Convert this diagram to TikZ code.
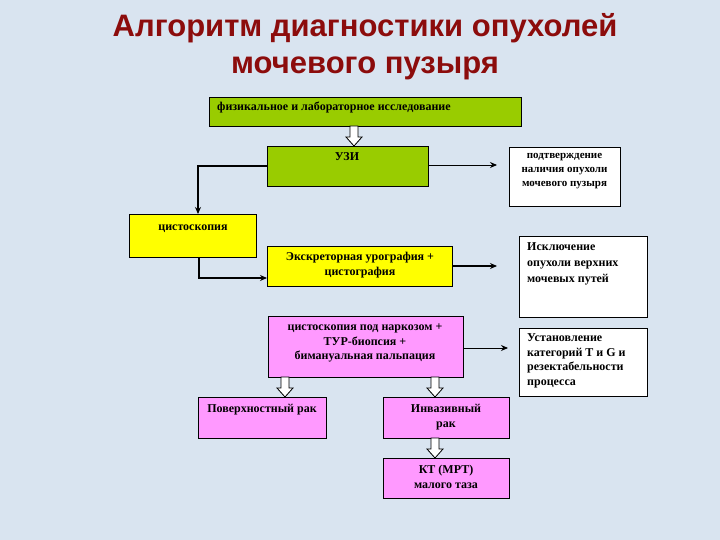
\documentclass[tikz,border=0pt]{standalone}
\usepackage{fontspec}
\setmainfont{Liberation Serif}
\newfontfamily\titlefont{Liberation Sans}
\usetikzlibrary{arrows.meta,calc}
\definecolor{bg}{HTML}{D9E4F0}
\definecolor{grn}{HTML}{99CC00}
\definecolor{yel}{HTML}{FFFF00}
\definecolor{pnk}{HTML}{FF99FF}
\definecolor{ttl}{HTML}{8C0C0C}
\tikzset{
  box/.style={draw=black, line width=0.9pt, anchor=north west, inner sep=0pt, outer sep=0pt},
  txt/.style={font=\bfseries\fontsize{12}{14.5}\selectfont, inner sep=0pt, align=center},
  ltxt/.style={font=\bfseries\fontsize{12}{15}\selectfont, inner sep=0pt, align=left, anchor=west},
  conn/.style={line width=1.3pt, -{Stealth[length=7pt,width=6pt]}},
  hollow/.style={draw=black, fill=white, line width=0.8pt}
}
\newcommand\hollowarrow[2]{%
  \draw[hollow] let \p1=(#1), \p2=(#2) in
    (\x1-4pt,\y1) -- (\x1-4pt,\y2+9pt) -- (\x1-8pt,\y2+9pt) -- (\x1,\y2)
    -- (\x1+8pt,\y2+9pt) -- (\x1+4pt,\y2+9pt) -- (\x1+4pt,\y1) -- cycle;}
\begin{document}
\begin{tikzpicture}[x=1pt,y=-1pt]
\fill[bg] (0,0) rectangle (720,540);
\useasboundingbox (0,0) rectangle (720,540);
% title
\node[font=\titlefont\bfseries\fontsize{31}{37}\selectfont, text=ttl, align=center, inner sep=0pt, anchor=base] (title) at (365,74)
  {Алгоритм диагностики опухолей\\мочевого пузыря};
% boxes
\node[box, fill=grn, minimum width=312pt, minimum height=29pt] (fiz) at (209,97) {};
\node[ltxt] (fizt) at (217,107) {физикальное и лабораторное исследование};
\node[box, fill=grn, minimum width=161pt, minimum height=40pt] (uzi) at (267,146) {};
\node[txt] (uzit) at (347,157) {УЗИ};
\node[box, fill=white, minimum width=111pt, minimum height=59pt] (conf) at (509,147) {};
\node[txt, font=\bfseries\fontsize{11}{14}\selectfont] (conft) at (564.5,171) {подтверждение\\наличия опухоли\\мочевого пузыря};
\node[box, fill=yel, minimum width=127pt, minimum height=43pt] (cyst) at (129,214) {};
\node[txt] (cystt) at (193,229) {цистоскопия};
\node[box, fill=yel, minimum width=185pt, minimum height=40pt] (exc) at (267,246) {};
\node[txt] (exct) at (360,265) {Экскреторная урография +\\цистография};
\node[box, fill=white, minimum width=128pt, minimum height=81pt] (excl) at (519,236) {};
\node[ltxt, font=\bfseries\fontsize{12}{16}\selectfont] (exclt) at (527,264) {Исключение\\опухоли верхних\\мочевых путей};
\node[box, fill=pnk, minimum width=195pt, minimum height=61pt] (tur) at (268,316) {};
\node[txt] (turt) at (365,343) {цистоскопия под наркозом +\\ТУР-биопсия +\\бимануальная пальпация};
\node[box, fill=white, minimum width=128pt, minimum height=68pt] (est) at (519,328) {};
\node[ltxt, font=\bfseries\fontsize{12}{14.5}\selectfont] (estt) at (527,361) {Установление\\категорий T и G и\\резектабельности\\процесса};
\node[box, fill=pnk, minimum width=128pt, minimum height=41pt] (pov) at (198,397) {};
\node[txt] (povt) at (262,410) {Поверхностный рак};
\node[box, fill=pnk, minimum width=126pt, minimum height=41pt] (inv) at (383,397) {};
\node[txt] (invt) at (446,417) {Инвазивный\\рак};
\node[box, fill=pnk, minimum width=126pt, minimum height=40pt] (kt) at (383,458) {};
\node[txt] (ktt) at (446,477) {КТ (МРТ)\\малого таза};
% hollow arrows
\coordinate (h1a) at (fiz.south -| 354,0);
\coordinate (h1b) at (uzi.north -| 354,0);
\hollowarrow{h1a}{h1b}
\coordinate (h2a) at (tur.south -| 285,0);
\coordinate (h2b) at (pov.north -| 285,0);
\hollowarrow{h2a}{h2b}
\coordinate (h3a) at (tur.south -| 435,0);
\coordinate (h3b) at (inv.north -| 435,0);
\hollowarrow{h3a}{h3b}
\coordinate (h4a) at (inv.south -| 435,0);
\coordinate (h4b) at (kt.north -| 435,0);
\hollowarrow{h4a}{h4b}
% connectors
\draw[conn, line width=0.9pt, shorten >=12pt] (uzi.east |- 0,165) -- (conf.west |- 0,165);
\draw[conn] (uzi.west |- 0,166) -| (cyst.north -| 198,0);
\draw[conn, line width=1.6pt] (cyst.south -| 199,0) |- (exc.west |- 0,278);
\draw[conn, line width=1.6pt, shorten >=22pt] (exc.east) -- (excl.west |- exc.east);
\draw[conn, line width=0.9pt, shorten >=11pt] (tur.east |- 0,348) -- (est.west |- 0,348);
\end{tikzpicture}
\end{document}
